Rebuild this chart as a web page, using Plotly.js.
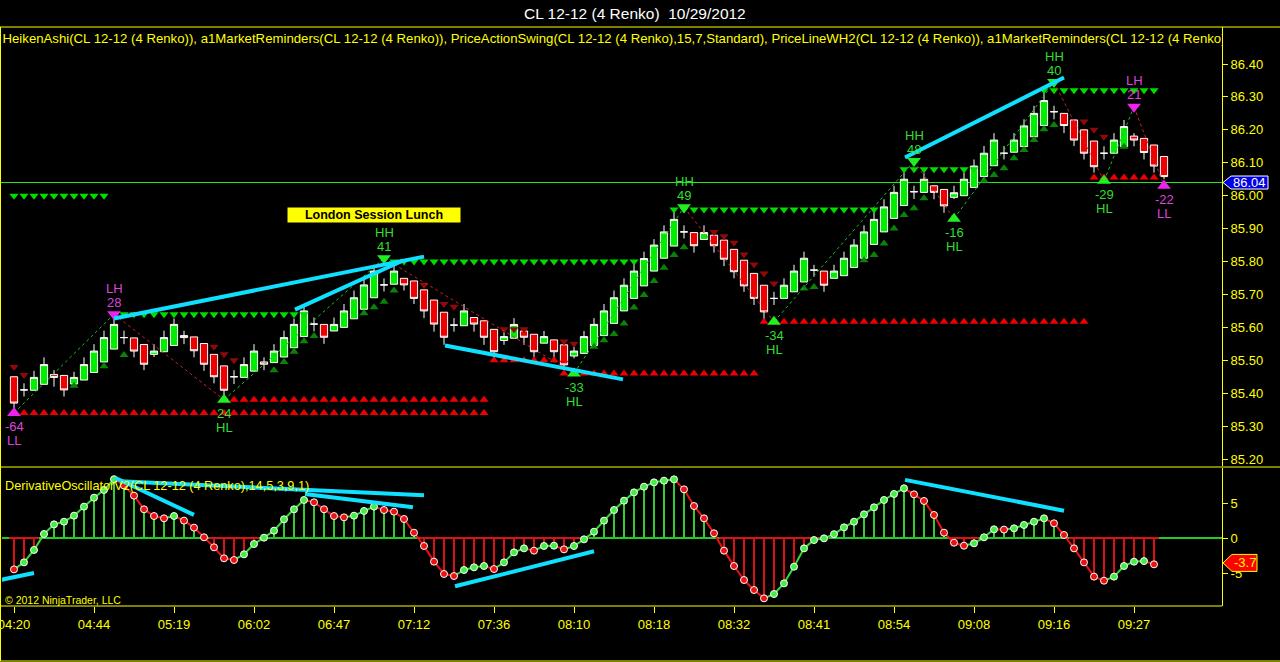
<!DOCTYPE html>
<html><head><meta charset="utf-8">
<script src="https://cdn.plot.ly/plotly-3.0.1.min.js"></script>
<style>html,body{margin:0;padding:0;background:#000;overflow:hidden}#chart{width:1280px;height:662px}</style>
</head><body><div id="chart"></div>
<script>
// ---------- DATA ----------
const opens = [85.45,85.41,85.409,85.427,85.457,85.454,85.428,85.44,85.463,85.495,
85.534,85.569,85.568,85.548,85.518,85.526,85.545,85.575,85.571,85.551,
85.518,85.483,85.45,85.448,85.467,85.495,85.493,85.51,85.538,85.572,
85.61,85.609,85.589,85.60,85.626,85.655,85.69,85.729,85.731,85.749,
85.741,85.714,85.683,85.646,85.607,85.605,85.63,85.62,85.594,85.56,
85.567,85.589,85.579,85.552,85.562,85.547,85.513,85.521,85.545,85.575,
85.612,85.65,85.688,85.726,85.771,85.81,85.847,85.89,85.888,85.867,
85.88,85.865,85.837,85.804,85.764,85.728,85.688,85.688,85.708,85.738,
85.774,85.771,85.749,85.757,85.782,85.81,85.852,85.89,85.931,85.97,
86.012,86.01,86.03,86.019,85.995,86.0,86.025,86.058,86.091,86.129,
86.132,86.149,86.179,86.213,86.255,86.25,86.23,86.2,86.166,86.129,
86.129,86.149,86.181,86.174,86.154,86.119];
const highs = [85.45,85.43,85.468,85.509,85.47,85.454,85.465,85.509,85.549,85.59,
85.627,85.59,85.568,85.548,85.549,85.59,85.627,85.59,85.571,85.551,
85.518,85.483,85.47,85.509,85.549,85.509,85.549,85.59,85.627,85.67,
85.63,85.609,85.63,85.671,85.712,85.749,85.79,85.749,85.79,85.749,
85.741,85.714,85.683,85.646,85.628,85.671,85.63,85.62,85.594,85.589,
85.628,85.589,85.579,85.589,85.562,85.547,85.545,85.589,85.628,85.671,
85.712,85.749,85.792,85.83,85.868,85.91,85.951,85.91,85.888,85.91,
85.88,85.865,85.837,85.804,85.764,85.728,85.708,85.749,85.79,85.83,
85.79,85.771,85.79,85.83,85.868,85.91,85.951,85.989,86.03,86.07,
86.03,86.068,86.03,86.019,86.03,86.07,86.11,86.151,86.19,86.151,
86.19,86.232,86.273,86.311,86.273,86.25,86.23,86.2,86.166,86.15,
86.19,86.23,86.19,86.174,86.154,86.119];
const lows = [85.355,85.39,85.409,85.427,85.42,85.39,85.42,85.44,85.463,85.495,
85.534,85.549,85.509,85.47,85.51,85.526,85.545,85.549,85.509,85.468,
85.43,85.389,85.428,85.448,85.467,85.47,85.493,85.51,85.538,85.572,
85.588,85.55,85.589,85.60,85.626,85.655,85.69,85.709,85.731,85.712,
85.671,85.628,85.587,85.547,85.587,85.605,85.587,85.547,85.506,85.547,
85.567,85.547,85.509,85.552,85.506,85.48,85.506,85.521,85.545,85.575,
85.612,85.65,85.688,85.726,85.771,85.81,85.847,85.87,85.827,85.867,
85.827,85.786,85.749,85.708,85.668,85.624,85.668,85.688,85.708,85.738,
85.754,85.708,85.749,85.757,85.782,85.81,85.852,85.89,85.931,85.97,
85.99,86.01,85.989,85.948,85.99,86.0,86.025,86.058,86.091,86.11,
86.132,86.149,86.179,86.213,86.232,86.19,86.151,86.11,86.07,86.11,
86.129,86.149,86.15,86.11,86.07,86.05];
const closes = [85.37,85.41,85.448,85.487,85.448,85.41,85.448,85.487,85.528,85.569,
85.609,85.569,85.528,85.488,85.528,85.569,85.609,85.569,85.529,85.488,
85.45,85.409,85.45,85.487,85.528,85.488,85.528,85.569,85.609,85.65,
85.61,85.57,85.609,85.65,85.69,85.729,85.771,85.729,85.771,85.729,
85.688,85.65,85.61,85.57,85.607,85.65,85.61,85.57,85.526,85.572,
85.609,85.57,85.526,85.572,85.526,85.486,85.528,85.572,85.609,85.65,
85.69,85.728,85.771,85.809,85.85,85.89,85.928,85.89,85.848,85.888,
85.848,85.807,85.769,85.726,85.688,85.647,85.688,85.728,85.771,85.81,
85.774,85.728,85.771,85.81,85.85,85.89,85.928,85.966,86.01,86.05,
86.012,86.05,86.01,85.969,86.009,86.05,86.09,86.129,86.169,86.129,
86.169,86.212,86.25,86.289,86.255,86.213,86.169,86.129,86.088,86.129,
86.169,86.21,86.169,86.131,86.09,86.058];

const oscValues = [-4.48,-3.48,-1.71,0.57,1.95,2.33,3.19,4.48,5.76,6.86,
8.4,7.5,6.05,4.1,3.14,2.81,3.14,2.48,1.48,0.1,
-1.33,-2.9,-3.14,-2.33,-0.86,0.05,1.05,2.67,4.1,5.43,
5.1,4.1,3.14,2.95,3.19,3.86,4.48,4.0,3.76,2.71,
0.76,-1.14,-3.38,-5.14,-5.43,-4.57,-4.19,-4.0,-4.43,-3.48,
-2.05,-1.48,-1.81,-1.14,-1.10,-1.62,-1.14,-0.19,0.9,2.48,
4.0,5.33,6.52,7.33,7.95,8.19,8.38,6.95,4.57,2.81,
0.67,-1.81,-4.0,-6.0,-7.43,-8.62,-8.0,-6.48,-4.1,-1.48,
-0.29,-0.05,0.55,1.52,2.33,3.38,4.38,5.43,6.29,7.1,
6.24,5.29,3.29,0.76,-0.67,-1.1,-0.76,0.1,1.24,1.2,
1.38,1.86,2.33,2.81,2.1,0.43,-1.48,-3.48,-5.52,-6.1,
-5.52,-4.0,-3.38,-3.3,-3.76];

const tickBars = [0,8,16,24,32,40,48,56,64,72,80,88,96,104,112];
const tickTimes = ['04:20','04:44','05:19','06:02','06:47','07:12','07:36','08:10','08:18','08:32','08:41','08:54','09:08','09:16','09:27'];
const priceTicks = [85.2,85.3,85.4,85.5,85.6,85.7,85.8,85.9,86.0,86.1,86.2,86.3,86.4];

const swingBars = [0,10,21,37,56,67,76,90,94,104,109,112,115];
const swingPrices = [85.34,85.64,85.38,85.81,85.46,85.965,85.617,86.105,85.93,86.345,86.045,86.27,86.03];
const swingTypes = ['LL','LH','HL','HH','HL','HH','HL','HH','HL','HH','HL','LH','LL'];
const swingCounts = ['-64','28','24','41','-33','49','-34','48','-16','40','-29','21','-22'];

const resStart = [0,11,38,66,89,103];
const resEnd = [9,29,62,86,96,114];
const resLevel = [86.00,85.64,85.80,85.958,86.08,86.32];
const supStart = [1,22,48,55,75,108];
const supEnd = [47,47,55,74,107,114];
const supLevel = [85.34,85.38,85.50,85.46,85.617,86.055];

const trendUpBars = [6,9,11,26,27,28,29,30,35,36,37,38,58,59,60,61,62,63,64,65,66,67,79,80,85,86,87,88,89,90,91,97,98,99,100,101,102,103,104,111];
const trendUpPrices = [85.423,85.482,85.516,85.47,85.495,85.526,85.558,85.574,85.643,85.661,85.678,85.712,85.541,85.561,85.58,85.612,85.66,85.698,85.741,85.781,85.82,85.843,85.718,85.723,85.804,85.82,85.855,85.90,85.941,85.962,85.992,86.046,86.063,86.083,86.114,86.139,86.169,86.202,86.215,86.149];
const trendDnBars = [0,1,20,21,22,41,43,44,49,50,51,55,56,70,71,72,73,74,75,76,107,108,109];
const trendDnPrices = [85.48,85.455,85.541,85.518,85.50,85.729,85.671,85.663,85.594,85.594,85.594,85.557,85.55,85.89,85.877,85.857,85.821,85.791,85.764,85.733,86.225,86.2,86.179];

// hand-drawn trend lines [x0, y0, x1, y1]
const priceTrendLines = [[10.0,85.627,41.0,85.815],[28.1,85.654,38.9,85.803],[43.1,85.545,60.9,85.442],[89.1,86.116,105.0,86.359]];
const oscTrendLines = [[-1.4,-6.0,2.0,-5.0],[10.1,8.6,18.0,3.3],[10.6,8.1,41.0,6.1],[29.1,6.3,39.9,4.4],[44.1,-6.9,58.0,-1.9],[89.1,8.3,105.0,3.9]];

const lastPrice = 86.04;
const lastOscLabel = '-3.7';

// ---------- GEOMETRY ----------
const W = 1280, H = 662;
const px = v => v / W, py = v => 1 - v / H;
const YEL = '#ffff00', FONT = 'Liberation Sans, Arial, sans-serif';
const idx = opens.map((_, i) => i);
const oscIdx = oscValues.map((_, i) => i);

const traces = [];
traces.push({type:'candlestick', x: idx, open: opens, high: highs, low: lows, close: closes,
  xaxis:'x', yaxis:'y', whiskerwidth:0, hoverinfo:'skip', showlegend:false,
  increasing:{line:{color:'#ffffff', width:1}, fillcolor:'#00ee00'},
  decreasing:{line:{color:'#ffffff', width:1}, fillcolor:'#ee0000'}});

function rows(starts, ends, levels) {
  const xs = [], ys = [];
  starts.forEach((s, k) => { for (let b = s; b <= ends[k]; b++) { xs.push(b); ys.push(levels[k]); } });
  return {xs, ys};
}
const rr = rows(resStart, resEnd, resLevel);
traces.push({type:'scatter', mode:'markers', x: rr.xs, y: rr.ys, xaxis:'x', yaxis:'y', hoverinfo:'skip', showlegend:false,
  marker:{symbol:'triangle-down', size:8, color:'#00dd00'}});
const sr = rows(supStart, supEnd, supLevel);
traces.push({type:'scatter', mode:'markers', x: sr.xs, y: sr.ys, xaxis:'x', yaxis:'y', hoverinfo:'skip', showlegend:false,
  marker:{symbol:'triangle-up', size:8, color:'#ee0000'}});

traces.push({type:'scatter', mode:'markers', x: trendUpBars, y: trendUpPrices, xaxis:'x', yaxis:'y', hoverinfo:'skip', showlegend:false,
  marker:{symbol:'triangle-up', size:8, color:'#0a820a'}});
traces.push({type:'scatter', mode:'markers', x: trendDnBars, y: trendDnPrices, xaxis:'x', yaxis:'y', hoverinfo:'skip', showlegend:false,
  marker:{symbol:'triangle-down', size:8, color:'#8e0a0a'}});

const zzUp = {x:[], y:[]}, zzDn = {x:[], y:[]};
for (let k = 1; k < swingBars.length; k++) {
  const t = swingPrices[k] > swingPrices[k-1] ? zzUp : zzDn;
  t.x.push(swingBars[k-1], swingBars[k], null); t.y.push(swingPrices[k-1], swingPrices[k], null);
}
traces.push({type:'scatter', mode:'lines', x: zzUp.x, y: zzUp.y, xaxis:'x', yaxis:'y', hoverinfo:'skip', showlegend:false,
  line:{color:'#22bb22', width:1, dash:'dot'}});
traces.push({type:'scatter', mode:'lines', x: zzDn.x, y: zzDn.y, xaxis:'x', yaxis:'y', hoverinfo:'skip', showlegend:false,
  line:{color:'#cc2222', width:1, dash:'dot'}});

const isHigh = t => t.endsWith('H');
const swingCol = t => t.startsWith('L') ? '#ee22ee' : '#22ee22';
traces.push({type:'scatter', mode:'markers', x: swingBars, y: swingPrices, xaxis:'x', yaxis:'y', hoverinfo:'skip', showlegend:false,
  marker:{symbol: swingTypes.map(t => isHigh(t) ? 'triangle-down' : 'triangle-up'), size:12, color: swingTypes.map(swingCol)}});

traces.push({type:'scatter', mode:'text', x:[-1.15], y:[86.473], xaxis:'x', yaxis:'y', hoverinfo:'skip', showlegend:false, cliponaxis:true,
  text:['HeikenAshi(CL 12-12 (4 Renko)), a1MarketReminders(CL 12-12 (4 Renko)), PriceActionSwing(CL 12-12 (4 Renko),15,7,Standard), PriceLineWH2(CL 12-12 (4 Renko)), a1MarketReminders(CL 12-12 (4 Renko))'],
  textposition:'middle right', textfont:{color:YEL, size:13.2, family:FONT}});

// ---------- OSCILLATOR ----------
const OG = '#33dd33', OR = '#ee1111';
const rising = oscValues.map((v, i) => i > 0 && v > oscValues[i-1]);
traces.push({type:'bar', x: oscIdx, y: oscValues, xaxis:'x', yaxis:'y2', width:0.22, hoverinfo:'skip', showlegend:false,
  marker:{color: oscValues.map(v => v >= 0 ? '#33cc33' : '#dd1111'), line:{width:0}}});
traces.push({type:'scatter', mode:'lines', x:[-1.2, 120.8], y:[0,0], xaxis:'x', yaxis:'y2', hoverinfo:'skip', showlegend:false,
  line:{color:'#22cc22', width:2}});
const zr = {x:[], y:[]};
oscValues.forEach((v, i) => { if (v < 0) { zr.x.push(i-0.5, i+0.5, null); zr.y.push(0, 0, null); } });
traces.push({type:'scatter', mode:'lines', x: zr.x, y: zr.y, xaxis:'x', yaxis:'y2', hoverinfo:'skip', showlegend:false,
  line:{color:'#dd1111', width:2}});
const sgU = {x:[], y:[]}, sgD = {x:[], y:[]};
for (let i = 1; i < oscValues.length; i++) {
  const t = rising[i] ? sgU : sgD;
  t.x.push(i-1, i, null); t.y.push(oscValues[i-1], oscValues[i], null);
}
traces.push({type:'scatter', mode:'lines', x: sgU.x, y: sgU.y, xaxis:'x', yaxis:'y2', hoverinfo:'skip', showlegend:false, line:{color:OG, width:2}});
traces.push({type:'scatter', mode:'lines', x: sgD.x, y: sgD.y, xaxis:'x', yaxis:'y2', hoverinfo:'skip', showlegend:false, line:{color:OR, width:2}});
traces.push({type:'scatter', mode:'markers', x: oscIdx, y: oscValues, xaxis:'x', yaxis:'y2', hoverinfo:'skip', showlegend:false,
  marker:{size:7, color: rising.map(r => r ? '#44ee44' : '#ee1111'), line:{color:'#ffffff', width:1}}});

// ---------- SHAPES ----------
const shapes = [];
const frame = (x0,y0,x1,y1) => shapes.push({type:'line', xref:'paper', yref:'paper', x0:px(x0), y0:py(y0), x1:px(x1), y1:py(y1), line:{color:YEL, width:1}});
frame(0,27,1280,27); frame(0,467,1280,467); frame(0,606,1222,606); frame(0,661,1280,661);
frame(0.5,27,0.5,661);
shapes.push({type:'line', xref:'paper', yref:'y', x0:0, x1:px(1222), y0:lastPrice, y1:lastPrice, layer:'below', line:{color:'#22ee22', width:1}});
priceTrendLines.forEach(l => shapes.push({type:'line', xref:'x', yref:'y', x0:l[0], y0:l[1], x1:l[2], y1:l[3], line:{color:'#10e0ff', width:4}}));
oscTrendLines.forEach(l => shapes.push({type:'line', xref:'x', yref:'y2', x0:l[0], y0:l[1], x1:l[2], y1:l[3], line:{color:'#10e0ff', width:4}}));
const pUnit = 1/329.2;
shapes.push({type:'path', xref:'paper', yref:'y', fillcolor:'#0000e6', line:{color:'#ffffff', width:1},
  path:`M ${px(1223)} ${lastPrice} L ${px(1231)} ${lastPrice+6.5*pUnit} L ${px(1268)} ${lastPrice+6.5*pUnit} L ${px(1268)} ${lastPrice-6.5*pUnit} L ${px(1231)} ${lastPrice-6.5*pUnit} Z`});
const lastOsc = oscValues[oscValues.length-1] + 0.2;
shapes.push({type:'path', xref:'paper', yref:'y2', fillcolor:'#ff0000', line:{color:YEL, width:1},
  path:`M ${px(1223)} ${lastOsc} L ${px(1232)} ${lastOsc+8.5/7} L ${px(1257)} ${lastOsc+8.5/7} L ${px(1257)} ${lastOsc-8.5/7} L ${px(1232)} ${lastOsc-8.5/7} Z`});

// ---------- ANNOTATIONS ----------
const ann = [];
ann.push({xref:'paper', yref:'paper', x:px(635), y:py(13), text:'CL 12-12 (4 Renko)  10/29/2012', showarrow:false,
  font:{color:'#ffffff', size:15.5, family:FONT}, xanchor:'center', yanchor:'middle'});
ann.push({xref:'paper', yref:'paper', x:px(374), y:py(215), text:'<b>London Session Lunch</b>', showarrow:false,
  font:{color:'#000000', size:12.5, family:FONT}, bgcolor:YEL, width:172, height:14, borderpad:0, xanchor:'center', yanchor:'middle'});
ann.push({xref:'paper', yref:'paper', x:px(3), y:py(486), text:'DerivativeOscillatorV2(CL 12-12 (4 Renko),14,5,3,9,1)', showarrow:false,
  font:{color:YEL, size:12.7, family:FONT}, xanchor:'left', yanchor:'middle'});
ann.push({xref:'paper', yref:'paper', x:px(3), y:py(600), text:'© 2012 NinjaTrader, LLC', showarrow:false,
  font:{color:YEL, size:10.5, family:FONT}, xanchor:'left', yanchor:'middle'});
ann.push({xref:'paper', yref:'y', x:px(1249), y:lastPrice, text:lastPrice.toFixed(2), showarrow:false,
  font:{color:'#ffffff', size:13, family:FONT}, xanchor:'center', yanchor:'middle'});
ann.push({xref:'paper', yref:'y2', x:px(1245), y:lastOsc, text:lastOscLabel, showarrow:false,
  font:{color:YEL, size:13, family:FONT}, xanchor:'center', yanchor:'middle'});
swingBars.forEach((b, k) => {
  const t = swingTypes[k], hi = isHigh(t), col = t.startsWith('L') ? '#dd44dd' : '#33dd33';
  ann.push({xref:'x', yref:'y', x:b, y:swingPrices[k], text:swingCounts[k], showarrow:false, font:{color:col, size:13, family:FONT},
    xanchor:'center', yanchor:'middle', yshift: hi ? 12 : -14});
  ann.push({xref:'x', yref:'y', x:b, y:swingPrices[k], text:t, showarrow:false, font:{color:col, size:13, family:FONT},
    xanchor:'center', yanchor:'middle', yshift: hi ? 26 : -28});
});

// ---------- LAYOUT ----------
const layout = {
  width: W, height: H, margin:{l:0, r:0, t:0, b:0, pad:0},
  paper_bgcolor:'#000000', plot_bgcolor:'#000000', showlegend:false,
  boxgap:0.15, boxgroupgap:0.15, bargap:0,
  xaxis:{domain:[px(2), px(1222)], range:[-1.2, 120.8], anchor:'y2', showgrid:false, zeroline:false,
    rangeslider:{visible:false}, tickmode:'array', tickvals: tickBars, ticktext: tickTimes, ticklabeloverflow:'allow',
    ticks:'outside', ticklen:6, tickcolor:YEL, tickfont:{color:YEL, size:13, family:FONT}, showline:false},
  yaxis:{domain:[py(466), py(27)], range:[85.1789, 86.5124], anchor:'x', side:'right', showgrid:false, zeroline:false,
    tickmode:'array', tickvals: priceTicks, ticktext: priceTicks.map(v => v.toFixed(2)),
    ticks:'outside', ticklen:5, tickcolor:YEL, tickfont:{color:YEL, size:13, family:FONT}, showline:true, linecolor:YEL, linewidth:1},
  yaxis2:{domain:[py(606), py(468)], range:[-9.714, 10.0], anchor:'x', side:'right', showgrid:false, zeroline:false,
    tickmode:'array', tickvals:[-5,0,5], ticktext:['-5','0','5'],
    ticks:'outside', ticklen:5, tickcolor:YEL, tickfont:{color:YEL, size:13, family:FONT}, showline:true, linecolor:YEL, linewidth:1},
  shapes, annotations: ann
};
Plotly.newPlot('chart', traces, layout, {staticPlot:true, displayModeBar:false});
</script></body></html>
